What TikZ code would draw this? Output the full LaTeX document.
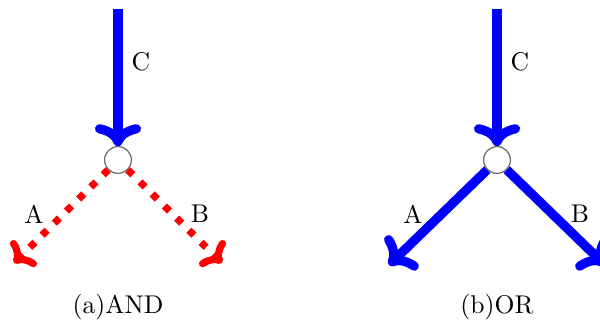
\documentclass[tikz,border=0pt]{standalone}
\usetikzlibrary{arrows.meta}
\begin{document}
\begin{tikzpicture}[x=0.39pt,y=-0.39pt,
  junction/.style={circle,draw=black!60,fill=white,line width=0.4pt,minimum size=10.4pt,inner sep=0pt},
  solidarrow/.style={draw=blue,line width=3.6pt,-{Computer Modern Rightarrow[scale=0.9]}},
  dottedarrow/.style={draw=red,line width=2.8pt,dash pattern=on 2.8pt off 3.9pt,-{Computer Modern Rightarrow[scale=0.85]}},
  lbl/.style={font=\normalsize,inner sep=0pt}]
\useasboundingbox (0,0) rectangle (600,327);
% (a) AND
\coordinate (ctopA) at (118,9);
\coordinate (aA) at (14,263);
\coordinate (bA) at (222,263);
\node[junction] (jA) at (118,160) {};
\draw[solidarrow] (ctopA) -- (jA.north);
\draw[dottedarrow] (jA.225) -- (aA);
\draw[dottedarrow] (jA.315) -- (bA);
\node[junction] at (jA) {};
\node[lbl] (cA) at (141,62) {C};
\node[lbl] (laA) at (34,214) {A};
\node[lbl] (lbA) at (200,214) {B};
\node[lbl] (capA) at (118,307) {(a)AND};
% (b) OR
\coordinate (ctopB) at (497,9);
\coordinate (aB) at (389,265);
\coordinate (bB) at (605,265);
\node[junction] (jB) at (497,160) {};
\draw[solidarrow] (ctopB) -- (jB.north);
\draw[solidarrow] (jB.225) -- (aB);
\draw[solidarrow] (jB.315) -- (bB);
\node[junction] at (jB) {};
\node[lbl] (cB) at (520,62) {C};
\node[lbl] (laB) at (413,214) {A};
\node[lbl] (lbB) at (580,214) {B};
\node[lbl] (capB) at (497,307) {(b)OR};
\end{tikzpicture}
\end{document}
